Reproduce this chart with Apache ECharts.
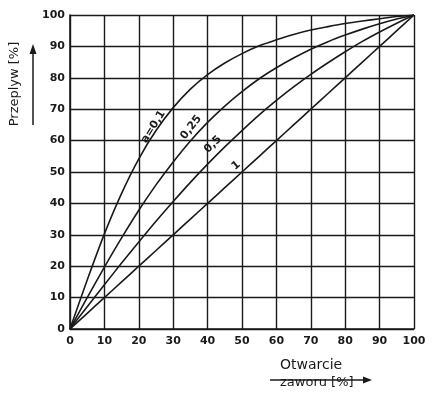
<!DOCTYPE html>
<html>
<head>
<meta charset="utf-8">
<script src="https://cdn.jsdelivr.net/npm/echarts@6/dist/echarts.min.js"></script>
<style>
  html, body { margin: 0; padding: 0; background: #fff; }
  #chart { width: 438px; height: 399px; }
</style>
</head>
<body>
<div id="chart"></div>
<script>
// valve opening [%] and flow [%] for each curve
const opening = [0, 5, 10, 15, 20, 25, 30, 35, 40, 45, 50, 55, 60, 65, 70, 75, 80, 85, 90, 95, 100];
const flowA01 = [0, 15.6, 30.3, 43.2, 54.2, 63.2, 70.5, 76.4, 81, 84.7, 87.7, 90.2, 92.1, 93.8, 95.2, 96.3, 97.3, 98.1, 98.8, 99.5, 100];
const flowA025 = [0, 10, 19.7, 29, 37.8, 45.9, 53.2, 59.9, 65.8, 71, 75.6, 79.7, 83.2, 86.3, 89.1, 91.5, 93.6, 95.5, 97.2, 98.7, 100];
const flowA05 = [0, 7.1, 14.1, 21, 27.7, 34.3, 40.6, 46.7, 52.5, 58, 63.2, 68.2, 72.8, 77.1, 81.1, 84.8, 88.3, 91.6, 94.6, 97.4, 100];
const flowA1 = [0, 5, 10, 15, 20, 25, 30, 35, 40, 45, 50, 55, 60, 65, 70, 75, 80, 85, 90, 95, 100];
const curveNames = ['a=0,1', '0,25', '0,5', '1'];
const labelPos = [[25.6, 65], [36.6, 64.6], [43, 59], [48.3, 52]];
const labelAngle = [58, 52, 45, 40];

const chart = echarts.init(document.getElementById('chart'));
const ink = '#1a1a1a';
const font = 'DejaVu Sans';

function curve(values, i) {
  return {
    type: 'line',
    name: curveNames[i],
    data: opening.map((x, k) => [x, values[k]]),
    symbol: 'none',
    smooth: 0.3,
    lineStyle: { color: ink, width: 1.6 },
    markPoint: {
      symbol: 'circle',
      symbolSize: 0,
      data: [{ coord: labelPos[i] }],
      label: {
        show: true,
        formatter: curveNames[i],
        rotate: labelAngle[i],
        offset: i < 3 ? [-4, -3] : [0, 0],
        color: ink,
        fontFamily: font,
        fontWeight: 'bold',
        fontSize: 11,
        position: 'inside'
      }
    }
  };
}

const axisCommon = {
  type: 'value',
  min: 0,
  max: 100,
  interval: 10,
  axisLine: { show: true, lineStyle: { color: ink, width: 1.6 } },
  axisTick: { show: false },
  splitLine: { show: true, lineStyle: { color: ink, width: 1.4 } },
  axisLabel: { color: ink, fontFamily: font, fontWeight: 'bold', fontSize: 11 }
};

chart.setOption({
  animation: false,
  grid: { left: 70, right: 24, top: 15, bottom: 70 },
  xAxis: Object.assign({}, axisCommon, {
    axisLabel: Object.assign({}, axisCommon.axisLabel, { margin: 7 })
  }),
  yAxis: Object.assign({}, axisCommon, {
    axisLabel: Object.assign({}, axisCommon.axisLabel, { margin: 5 })
  }),
  series: [
    curve(flowA01, 0),
    curve(flowA025, 1),
    curve(flowA05, 2),
    curve(flowA1, 3)
  ],
  graphic: [
    // y axis title with arrow
    {
      type: 'text',
      x: 15, y: 84,
      rotation: Math.PI / 2,
      style: {
        text: 'Przeplyw [%]',
        fill: ink,
        font: '13px "DejaVu Sans"',
        align: 'center',
        verticalAlign: 'middle'
      }
    },
    {
      type: 'line',
      shape: { x1: 33, y1: 125, x2: 33, y2: 52 },
      style: { stroke: ink, lineWidth: 1.5 }
    },
    {
      type: 'polygon',
      shape: { points: [[33, 44], [29.5, 54], [36.5, 54]] },
      style: { fill: ink }
    },
    // x axis title with arrow
    {
      type: 'text',
      x: 280, y: 358,
      style: { text: 'Otwarcie', fill: ink, font: '14px "DejaVu Sans"' }
    },
    {
      type: 'text',
      x: 280, y: 376,
      style: { text: 'zaworu [%]', fill: ink, font: '13px "DejaVu Sans"' }
    },
    {
      type: 'line',
      shape: { x1: 270, y1: 380, x2: 364, y2: 380 },
      style: { stroke: ink, lineWidth: 1.3 }
    },
    {
      type: 'polygon',
      shape: { points: [[372, 380], [363, 376.5], [363, 383.5]] },
      style: { fill: ink }
    }
  ]
});
</script>
</body>
</html>
